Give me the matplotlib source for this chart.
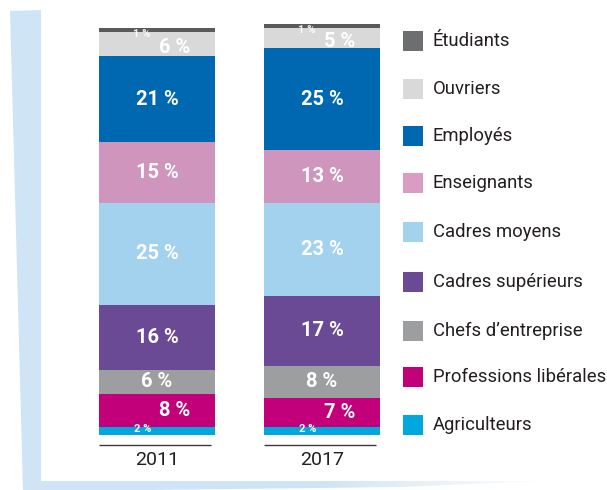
import numpy as np
import matplotlib
matplotlib.use("Agg")
import matplotlib.pyplot as plt
from matplotlib.patches import Polygon

plt.rcParams['font.family'] = ['Roboto', 'Liberation Sans', 'DejaVu Sans']

years = ["2011", "2017"]
# stacked from bottom to top
categories = ["Agriculteurs", "Professions libérales", "Chefs d\u2019entreprise",
              "Cadres supérieurs", "Cadres moyens", "Enseignants",
              "Employés", "Ouvriers", "Étudiants"]
values_2011 = [2, 8, 6, 16, 25, 15, 21, 6, 1]
values_2017 = [2, 7, 8, 17, 23, 13, 25, 5, 1]
colors = ["#00a8de", "#c2007a", "#9d9ea0", "#6a4a94", "#a3d2ef",
          "#d095bc", "#0068b1", "#d9d9da", "#5a5a5c"]
legend_colors = ["#00a8de", "#c2007a", "#9d9ea0", "#6a4a94", "#a3d2ef",
                 "#da9cc2", "#0068b1", "#d9d9da", "#6d6e70"]

W, H = 607, 490
fig = plt.figure(figsize=(W / 100, H / 100), dpi=100)

# background decoration axes in pixel coordinates
bg = fig.add_axes([0, 0, 1, 1], zorder=0)
bg.set_xlim(0, W)
bg.set_ylim(H, 0)
bg.axis("off")
frame_col = "#cfe4f5"
bg.add_patch(Polygon([(10, 11), (41, 10), (41, 481), (545, 481), (400, 487),
                      (150, 490), (23, 490)], closed=True, color=frame_col, lw=0))
tail = Polygon([(330, 480), (560, 480), (560, 492), (330, 492)], closed=True,
               facecolor="none", edgecolor="none")
bg.add_patch(tail)
grad = np.zeros((2, 200, 4))
grad[..., :3] = 1.0
grad[..., 3] = np.linspace(0, 1, 200)[None, :] ** 0.8
im = bg.imshow(grad, extent=(330, 560, 492, 480), aspect="auto", zorder=2)
im.set_clip_path(tail)

# main axes
ppu = 406.7 / 100.0
y_low, y_high = -10, 105
bottom_px = 434.7 - y_low * ppu
height_px = (y_high - y_low) * ppu
x_left_px, x_right_px = 90, 390
x0_px, step_px = 157, 165
ax = fig.add_axes([x_left_px / W, (H - bottom_px) / H,
                   (x_right_px - x_left_px) / W, height_px / H], zorder=1)
ax.set_xlim((x_left_px - x0_px) / step_px, (x_right_px - x0_px) / step_px)
ax.set_ylim(y_low, y_high)
ax.axis("off")
ax.patch.set_alpha(0)

bar_w = 116 / 165
data = [values_2011, values_2017]
for i, vals in enumerate(data):
    bottom = 0
    for j, v in enumerate(vals):
        ax.bar(i, v, bottom=bottom, width=bar_w, color=colors[j], linewidth=0)
        cy = bottom + v / 2
        cat = categories[j]
        if cat in ("Agriculteurs",):
            ax.text(i - 0.085, cy + 0.4, f"{v} %", color="white", fontsize=8,
                    fontweight="bold", ha="center", va="center")
        elif cat == "Étudiants":
            ax.text(i - 0.095, cy - 1.0, f"{v} %", color="white", fontsize=8,
                    fontweight="bold", ha="center", va="center", alpha=0.9)
        elif cat == "Ouvriers":
            ax.text(i + 0.105, cy - 0.8, f"{v} %", color="white", fontsize=14.5,
                    fontweight="bold", ha="center", va="center")
        elif cat == "Professions libérales":
            ax.text(i + 0.105, cy, f"{v} %", color="white", fontsize=14.5,
                    fontweight="bold", ha="center", va="center")
        else:
            ax.text(i, cy, f"{v} %", color="white", fontsize=14.5,
                    fontweight="bold", ha="center", va="center")
        bottom += v
    ax.hlines(-2.53, i - 0.35, i + 0.33, color="#3a3a3a", lw=1.0)
    ax.text(i, -6.3, years[i], color="#231f20", fontsize=14,
            ha="center", va="center")

# legend (top to bottom)
leg_y = [40.7, 89, 136, 183, 232, 281.7, 331, 376.7, 425]
for k, y in enumerate(leg_y):
    j = len(categories) - 1 - k
    bg.add_patch(Polygon([(403, y - 10), (423, y - 10), (423, y + 10), (403, y + 10)],
                         closed=True, color=legend_colors[j], lw=0))
    bg.text(433, y, categories[j], color="#231f20", fontsize=13.3,
            ha="left", va="center")

fig.savefig("out.png", dpi=100)
